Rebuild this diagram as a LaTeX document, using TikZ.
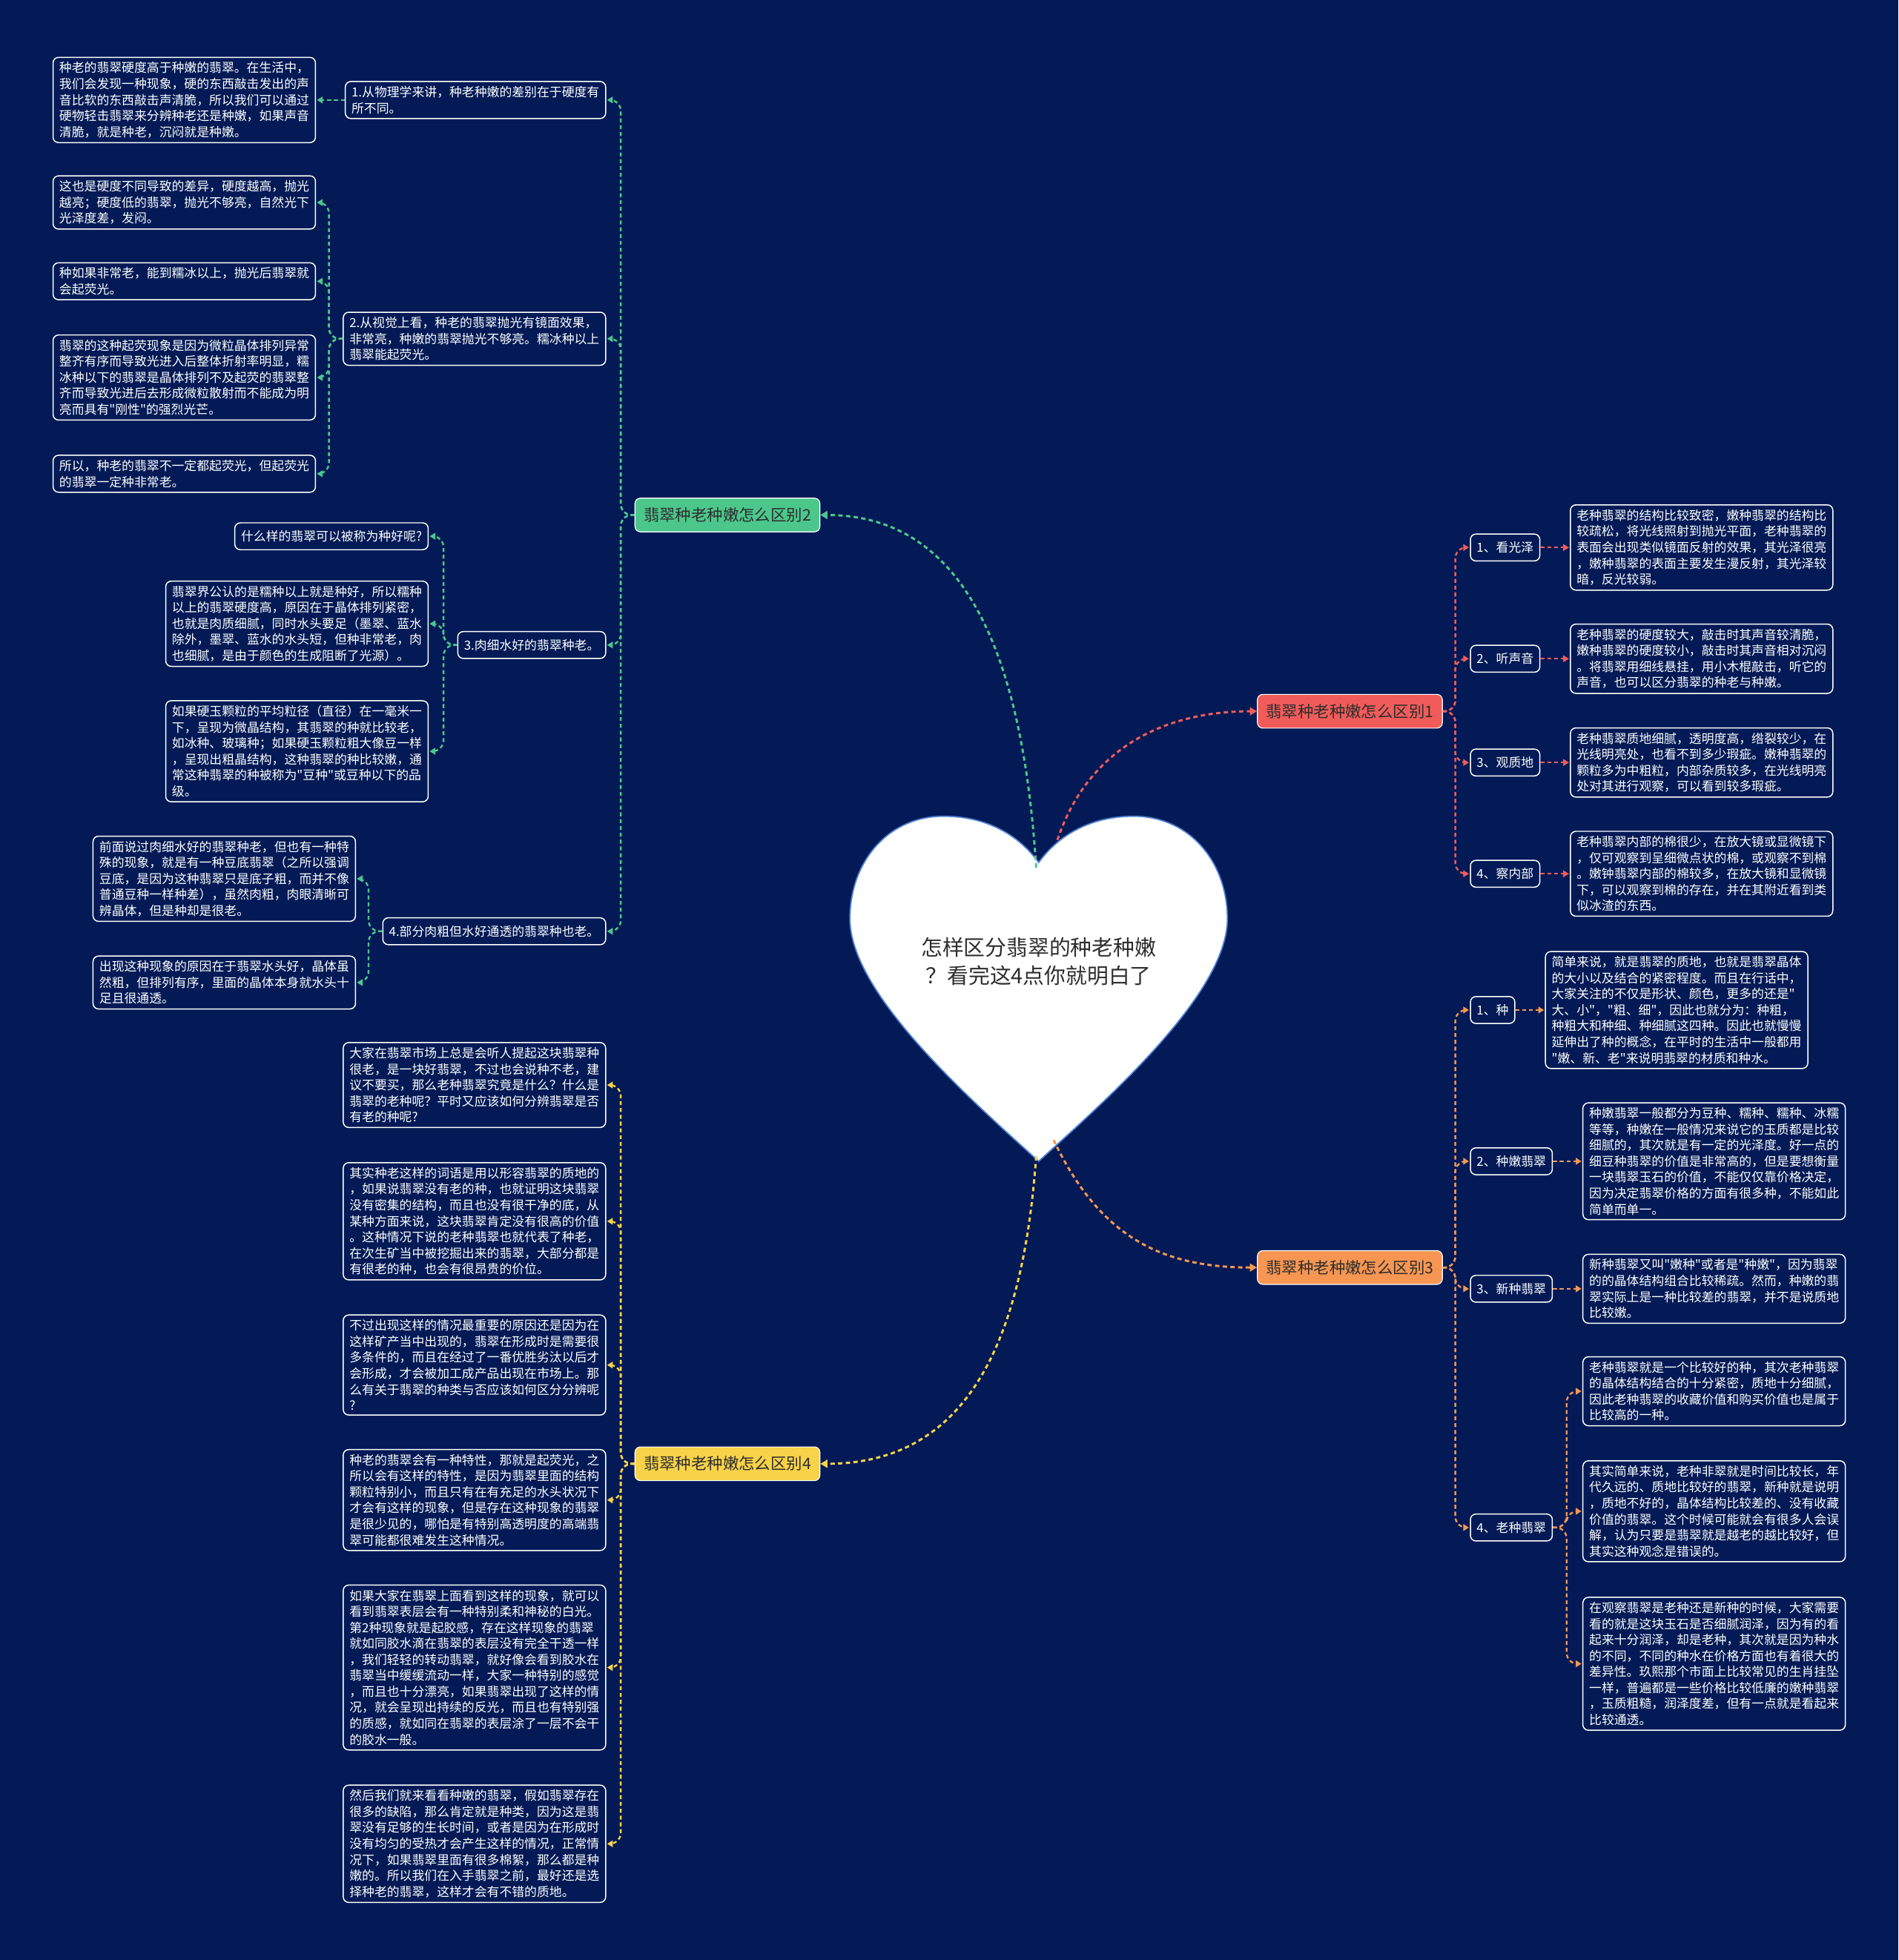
\documentclass[tikz,border=0pt]{standalone}
\usepackage{fontspec}
\setmainfont{Noto Sans CJK SC}[Ligatures=TeXOff]
\usetikzlibrary{arrows.meta}
\definecolor{bgnavy}{RGB}{3,26,86}
\definecolor{jadegreen}{RGB}{76,199,140}
\definecolor{coral}{RGB}{241,92,90}
\definecolor{amber}{RGB}{247,150,82}
\definecolor{lemon}{RGB}{248,210,72}
\definecolor{inkgray}{RGB}{45,45,45}
\definecolor{heartrim}{RGB}{80,130,210}

\begin{document}
\begin{tikzpicture}[x=0.02cm,y=-0.02cm,
  card/.style={draw=white,line width=0.5pt,rounded corners=2.5pt,fill=bgnavy,text=white,
               font=\fontsize{5.69pt}{7.28pt}\selectfont,align=left,
               inner xsep=0.1cm,inner ysep=0.075cm},
  leafcard/.style={card,text width=4cm},
  topic/.style={card,minimum height=0.43cm},
  mainbox/.style={draw=white,line width=0.4pt,rounded corners=2.5pt,text=inkgray,
                  font=\fontsize{7.23pt}{8.7pt}\selectfont,minimum width=2.96cm,
                  minimum height=0.54cm,inner xsep=0.12cm},
  dashlink/.style={line width=0.8pt,dash pattern=on 1.8pt off 1.3pt,rounded corners=5pt,
                   -{Triangle[length=2.6pt,width=3pt]},shorten >=0.4pt},
  trunk/.style={line width=1pt,dash pattern=on 2pt off 1.5pt,
                -{Triangle[length=3.2pt,width=3.6pt]}},
]
\useasboundingbox (0,0) rectangle (1519,1568);
\fill[bgnavy] (0,0) rectangle (1519,1568);

% Trunks (drawn first, the heart covers their ends)
\coordinate (hG) at (829,694);
\coordinate (hR) at (846,672);
\coordinate (hO) at (843,912);
\coordinate (hY) at (829,925);

% Centre heart
\filldraw[fill=white,draw=heartrim,line width=0.6pt] (831,690)
  .. controls (850,664) and (878,653) .. (907,653)
  .. controls (952,653) and (982,690) .. (982,735)
  .. controls (982,795) and (885,880) .. (831,929)
  .. controls (777,880) and (680,795) .. (680,735)
  .. controls (680,690) and (710,653) .. (755,653)
  .. controls (784,653) and (812,664) .. (831,690) -- cycle;
\node[font=\fontsize{9.73pt}{12.86pt}\selectfont,text=inkgray,align=center] (title) at (831,769)
  {怎样区分翡翠的种老种嫩\\？看完这4点你就明白了};

% Main branches
\node[mainbox,fill=jadegreen] (b2) at (582,412) {翡翠种老种嫩怎么区别2};
\node[mainbox,fill=coral]     (b1) at (1080,569) {翡翠种老种嫩怎么区别1};
\node[mainbox,fill=amber]     (b3) at (1080,1014) {翡翠种老种嫩怎么区别3};
\node[mainbox,fill=lemon]     (b4) at (582,1171) {翡翠种老种嫩怎么区别4};

\draw[trunk,jadegreen] (hG) .. controls (818,520) and (770,412) .. (b2.east);
\draw[trunk,coral]     (hR) .. controls (870,600) and (930,569) .. (b1.west);
\draw[trunk,amber]     (hO) .. controls (880,990) and (930,1014) .. (b3.west);
\draw[trunk,lemon]     (hY) .. controls (818,1080) and (770,1171) .. (b4.east);

% Branch 2 (left, green)
\node[topic,anchor=east] (sa) at (485,80) {1.从物理学来讲，种老种嫩的差别在于硬度有\\所不同。};
\node[leafcard,anchor=west] (la1) at (42,80) {种老的翡翠硬度高于种嫩的翡翠。在生活中，\\
我们会发现一种现象，硬的东西敲击发出的声\\
音比软的东西敲击声清脆，所以我们可以通过\\
硬物轻击翡翠来分辨种老还是种嫩，如果声音\\
清脆，就是种老，沉闷就是种嫩。};

\node[topic,anchor=east] (sb) at (485,271) {2.从视觉上看，种老的翡翠抛光有镜面效果，\\
非常亮，种嫩的翡翠抛光不够亮。糯冰种以上\\
翡翠能起荧光。};
\node[leafcard,anchor=west] (lb1) at (42,162) {这也是硬度不同导致的差异，硬度越高，抛光\\
越亮；硬度低的翡翠，抛光不够亮，自然光下\\
光泽度差，发闷。};
\node[leafcard,anchor=west] (lb2) at (42,225) {种如果非常老，能到糯冰以上，抛光后翡翠就\\
会起荧光。};
\node[leafcard,anchor=west] (lb3) at (42,302) {翡翠的这种起荧现象是因为微粒晶体排列异常\\
整齐有序而导致光进入后整体折射率明显，糯\\
冰种以下的翡翠是晶体排列不及起荧的翡翠整\\
齐而导致光进后去形成微粒散射而不能成为明\\
亮而具有"刚性"的强烈光芒。};
\node[leafcard,anchor=west] (lb4) at (42,379) {所以，种老的翡翠不一定都起荧光，但起荧光\\
的翡翠一定种非常老。};

\node[topic,anchor=east] (sc) at (485,516) {3.肉细水好的翡翠种老。};
\node[topic,anchor=east] (lc1) at (343,429) {什么样的翡翠可以被称为种好呢?};
\node[leafcard,anchor=east] (lc2) at (343,499) {翡翠界公认的是糯种以上就是种好，所以糯种\\
以上的翡翠硬度高，原因在于晶体排列紧密，\\
也就是肉质细腻，同时水头要足（墨翠、蓝水\\
除外，墨翠、蓝水的水头短，但种非常老，肉\\
也细腻，是由于颜色的生成阻断了光源）。};
\node[leafcard,anchor=east] (lc3) at (343,601) {如果硬玉颗粒的平均粒径（直径）在一毫米一\\
下，呈现为微晶结构，其翡翠的种就比较老，\\
如冰种、玻璃种；如果硬玉颗粒粗大像豆一样\\
，呈现出粗晶结构，这种翡翠的种比较嫩，通\\
常这种翡翠的种被称为"豆种"或豆种以下的品\\
级。};

\node[topic,anchor=east] (sd) at (485,745) {4.部分肉粗但水好通透的翡翠种也老。};
\node[leafcard,anchor=west] (ld1) at (74,703) {前面说过肉细水好的翡翠种老，但也有一种特\\
殊的现象，就是有一种豆底翡翠（之所以强调\\
豆底，是因为这种翡翠只是底子粗，而并不像\\
普通豆种一样种差），虽然肉粗，肉眼清晰可\\
辨晶体，但是种却是很老。};
\node[leafcard,anchor=west] (ld2) at (74,786) {出现这种现象的原因在于翡翠水头好，晶体虽\\
然粗，但排列有序，里面的晶体本身就水头十\\
足且很通透。};

\draw[dashlink,jadegreen] (b2.west) -- ++(-11,0) |- (sa.east);
\draw[dashlink,jadegreen] (b2.west) -- ++(-11,0) |- (sb.east);
\draw[dashlink,jadegreen] (b2.west) -- ++(-11,0) |- (sc.east);
\draw[dashlink,jadegreen] (b2.west) -- ++(-11,0) |- (sd.east);
\draw[dashlink,jadegreen] (sa.west) -- (la1.east);
\draw[dashlink,jadegreen] (sb.west) -- ++(-11,0) |- (lb1.east);
\draw[dashlink,jadegreen] (sb.west) -- ++(-11,0) |- (lb2.east);
\draw[dashlink,jadegreen] (sb.west) -- ++(-11,0) |- (lb3.east);
\draw[dashlink,jadegreen] (sb.west) -- ++(-11,0) |- (lb4.east);
\draw[dashlink,jadegreen] (sc.west) -- ++(-11,0) |- (lc1.east);
\draw[dashlink,jadegreen] (sc.west) -- ++(-11,0) |- (lc2.east);
\draw[dashlink,jadegreen] (sc.west) -- ++(-11,0) |- (lc3.east);
\draw[dashlink,jadegreen] (sd.west) -- ++(-11,0) |- (ld1.east);
\draw[dashlink,jadegreen] (sd.west) -- ++(-11,0) |- (ld2.east);

% Branch 4 (left, yellow)
\node[leafcard,anchor=east] (y1) at (485,868) {大家在翡翠市场上总是会听人提起这块翡翠种\\
很老，是一块好翡翠，不过也会说种不老，建\\
议不要买，那么老种翡翠究竟是什么？什么是\\
翡翠的老种呢？平时又应该如何分辨翡翠是否\\
有老的种呢?};
\node[leafcard,anchor=east] (y2) at (485,977) {其实种老这样的词语是用以形容翡翠的质地的\\
，如果说翡翠没有老的种，也就证明这块翡翠\\
没有密集的结构，而且也没有很干净的底，从\\
某种方面来说，这块翡翠肯定没有很高的价值\\
。这种情况下说的老种翡翠也就代表了种老，\\
在次生矿当中被挖掘出来的翡翠，大部分都是\\
有很老的种，也会有很昂贵的价位。};
\node[leafcard,anchor=east] (y3) at (485,1092) {不过出现这样的情况最重要的原因还是因为在\\
这样矿产当中出现的，翡翠在形成时是需要很\\
多条件的，而且在经过了一番优胜劣汰以后才\\
会形成，才会被加工成产品出现在市场上。那\\
么有关于翡翠的种类与否应该如何区分分辨呢\\
?};
\node[leafcard,anchor=east] (y4) at (485,1200) {种老的翡翠会有一种特性，那就是起荧光，之\\
所以会有这样的特性，是因为翡翠里面的结构\\
颗粒特别小，而且只有在有充足的水头状况下\\
才会有这样的现象，但是存在这种现象的翡翠\\
是很少见的，哪怕是有特别高透明度的高端翡\\
翠可能都很难发生这种情况。};
\node[leafcard,anchor=east] (y5) at (485,1334) {如果大家在翡翠上面看到这样的现象，就可以\\
看到翡翠表层会有一种特别柔和神秘的白光。\\
第2种现象就是起胶感，存在这样现象的翡翠\\
就如同胶水滴在翡翠的表层没有完全干透一样\\
，我们轻轻的转动翡翠，就好像会看到胶水在\\
翡翠当中缓缓流动一样，大家一种特别的感觉\\
，而且也十分漂亮，如果翡翠出现了这样的情\\
况，就会呈现出持续的反光，而且也有特别强\\
的质感，就如同在翡翠的表层涂了一层不会干\\
的胶水一般。};
\node[leafcard,anchor=east] (y6) at (485,1475) {然后我们就来看看种嫩的翡翠，假如翡翠存在\\
很多的缺陷，那么肯定就是种类，因为这是翡\\
翠没有足够的生长时间，或者是因为在形成时\\
没有均匀的受热才会产生这样的情况，正常情\\
况下，如果翡翠里面有很多棉絮，那么都是种\\
嫩的。所以我们在入手翡翠之前，最好还是选\\
择种老的翡翠，这样才会有不错的质地。};

\draw[dashlink,lemon] (b4.west) -- ++(-11,0) |- (y1.east);
\draw[dashlink,lemon] (b4.west) -- ++(-11,0) |- (y2.east);
\draw[dashlink,lemon] (b4.west) -- ++(-11,0) |- (y3.east);
\draw[dashlink,lemon] (b4.west) -- ++(-11,0) |- (y4.east);
\draw[dashlink,lemon] (b4.west) -- ++(-11,0) |- (y5.east);
\draw[dashlink,lemon] (b4.west) -- ++(-11,0) |- (y6.east);

% Branch 1 (right, red)
\node[topic,anchor=west] (r1) at (1176,438) {1、看光泽};
\node[topic,anchor=west] (r2) at (1176,527) {2、听声音};
\node[topic,anchor=west] (r3) at (1176,610) {3、观质地};
\node[topic,anchor=west] (r4) at (1176,699) {4、察内部};
\node[leafcard,anchor=west] (rl1) at (1256,438) {老种翡翠的结构比较致密，嫩种翡翠的结构比\\
较疏松，将光线照射到抛光平面，老种翡翠的\\
表面会出现类似镜面反射的效果，其光泽很亮\\
，嫩种翡翠的表面主要发生漫反射，其光泽较\\
暗，反光较弱。};
\node[leafcard,anchor=west] (rl2) at (1256,527) {老种翡翠的硬度较大，敲击时其声音较清脆，\\
嫩种翡翠的硬度较小，敲击时其声音相对沉闷\\
。将翡翠用细线悬挂，用小木棍敲击，听它的\\
声音，也可以区分翡翠的种老与种嫩。};
\node[leafcard,anchor=west] (rl3) at (1256,610) {老种翡翠质地细腻，透明度高，绺裂较少，在\\
光线明亮处，也看不到多少瑕疵。嫩种翡翠的\\
颗粒多为中粗粒，内部杂质较多，在光线明亮\\
处对其进行观察，可以看到较多瑕疵。};
\node[leafcard,anchor=west] (rl4) at (1256,699) {老种翡翠内部的棉很少，在放大镜或显微镜下\\
，仅可观察到呈细微点状的棉，或观察不到棉\\
。嫩钟翡翠内部的棉较多，在放大镜和显微镜\\
下，可以观察到棉的存在，并在其附近看到类\\
似冰渣的东西。};

\draw[dashlink,coral] (b1.east) -- ++(10,0) |- (r1.west);
\draw[dashlink,coral] (b1.east) -- ++(10,0) |- (r2.west);
\draw[dashlink,coral] (b1.east) -- ++(10,0) |- (r3.west);
\draw[dashlink,coral] (b1.east) -- ++(10,0) |- (r4.west);
\draw[dashlink,coral] (r1.east) -- (rl1.west);
\draw[dashlink,coral] (r2.east) -- (rl2.west);
\draw[dashlink,coral] (r3.east) -- (rl3.west);
\draw[dashlink,coral] (r4.east) -- (rl4.west);

% Branch 3 (right, orange)
\node[topic,anchor=west] (o1) at (1176,808) {1、种};
\node[topic,anchor=west] (o2) at (1176,929) {2、种嫩翡翠};
\node[topic,anchor=west] (o3) at (1176,1031) {3、新种翡翠};
\node[topic,anchor=west] (o4) at (1176,1222) {4、老种翡翠};
\node[leafcard,anchor=west] (ol1) at (1236,808) {简单来说，就是翡翠的质地，也就是翡翠晶体\\
的大小以及结合的紧密程度。而且在行话中，\\
大家关注的不仅是形状、颜色，更多的还是"\\
大、小"，"粗、细"，因此也就分为：种粗，\\
种粗大和种细、种细腻这四种。因此也就慢慢\\
延伸出了种的概念，在平时的生活中一般都用\\
"嫩、新、老"来说明翡翠的材质和种水。};
\node[leafcard,anchor=west] (ol2) at (1266,929) {种嫩翡翠一般都分为豆种、糯种、糯种、冰糯\\
等等，种嫩在一般情况来说它的玉质都是比较\\
细腻的，其次就是有一定的光泽度。好一点的\\
细豆种翡翠的价值是非常高的，但是要想衡量\\
一块翡翠玉石的价值，不能仅仅靠价格决定，\\
因为决定翡翠价格的方面有很多种，不能如此\\
简单而单一。};
\node[leafcard,anchor=west] (ol3) at (1266,1031) {新种翡翠又叫"嫩种"或者是"种嫩"，因为翡翠\\
的的晶体结构组合比较稀疏。然而，种嫩的翡\\
翠实际上是一种比较差的翡翠，并不是说质地\\
比较嫩。};
\node[leafcard,anchor=west] (ol4a) at (1266,1113) {老种翡翠就是一个比较好的种，其次老种翡翠\\
的晶体结构结合的十分紧密，质地十分细腻，\\
因此老种翡翠的收藏价值和购买价值也是属于\\
比较高的一种。};
\node[leafcard,anchor=west] (ol4b) at (1266,1209) {其实简单来说，老种非翠就是时间比较长，年\\
代久远的、质地比较好的翡翠，新种就是说明\\
，质地不好的，晶体结构比较差的、没有收藏\\
价值的翡翠。这个时候可能就会有很多人会误\\
解，认为只要是翡翠就是越老的越比较好，但\\
其实这种观念是错误的。};
\node[leafcard,anchor=west] (ol4c) at (1266,1331) {在观察翡翠是老种还是新种的时候，大家需要\\
看的就是这块玉石是否细腻润泽，因为有的看\\
起来十分润泽，却是老种，其次就是因为种水\\
的不同，不同的种水在价格方面也有着很大的\\
差异性。玖熙那个市面上比较常见的生肖挂坠\\
一样，普遍都是一些价格比较低廉的嫩种翡翠\\
，玉质粗糙，润泽度差，但有一点就是看起来\\
比较通透。};

\draw[dashlink,amber] (b3.east) -- ++(10,0) |- (o1.west);
\draw[dashlink,amber] (b3.east) -- ++(10,0) |- (o2.west);
\draw[dashlink,amber] (b3.east) -- ++(10,0) |- (o3.west);
\draw[dashlink,amber] (b3.east) -- ++(10,0) |- (o4.west);
\draw[dashlink,amber] (o1.east) -- (ol1.west);
\draw[dashlink,amber] (o2.east) -- (ol2.west);
\draw[dashlink,amber] (o3.east) -- (ol3.west);
\draw[dashlink,amber] (o4.east) -- ++(11,0) |- (ol4a.west);
\draw[dashlink,amber] (o4.east) -- ++(11,0) |- (ol4b.west);
\draw[dashlink,amber] (o4.east) -- ++(11,0) |- (ol4c.west);
\end{tikzpicture}
\end{document}
